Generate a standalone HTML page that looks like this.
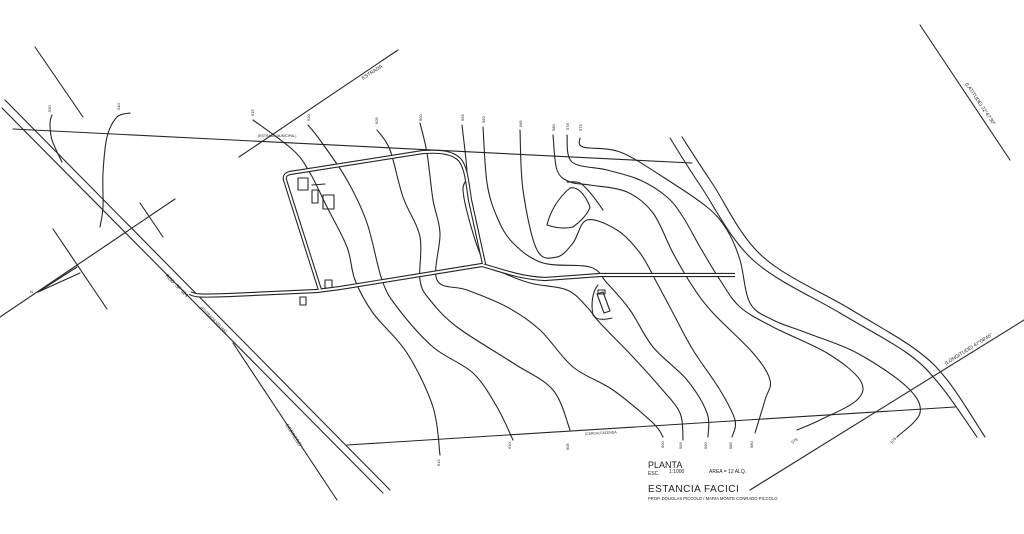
<!DOCTYPE html>
<html><head><meta charset="utf-8"><style>
html,body{margin:0;padding:0;background:#fff;}
svg{display:block}
text{font-family:"Liberation Sans",sans-serif;fill:#222}
</style></head><body>
<svg id="s" width="1024" height="534" viewBox="0 0 1024 534" xmlns="http://www.w3.org/2000/svg">
<rect width="1024" height="534" fill="#fff"/>
<g stroke="#262626" stroke-width="1.1" fill="none" stroke-linejoin="round" stroke-linecap="round">
<line x1="2" y1="108" x2="383" y2="493"/>
<line x1="5" y1="100" x2="390" y2="490"/>
<line x1="233" y1="343" x2="337" y2="500"/>
<line x1="35" y1="47" x2="83" y2="117"/>
<line x1="0" y1="317" x2="175" y2="199"/>
<line x1="53" y1="229" x2="107" y2="309"/>
<line x1="140" y1="203" x2="163" y2="237"/>
<line x1="38" y1="292" x2="77" y2="267"/>
<line x1="38" y1="292" x2="80" y2="273"/>
<line x1="13" y1="129" x2="692" y2="163"/>
<line x1="239" y1="157" x2="398" y2="50"/>
<line x1="347" y1="445" x2="955" y2="407"/>
<polyline class="c" points="670,138 700,185 753,260 840,313 907,353 940,385 977,437"/>
<polyline class="c" points="682,137 712,183 762,256 850,309 915,349 948,381 985,437"/>
<line x1="920" y1="25" x2="1010" y2="160"/>
<line x1="750" y1="490" x2="1024" y2="320"/>
<polyline class="c" points="52,115 50,123 52,140 62,162"/>
<polyline class="c" points="130,113 117,117 107,137 103,173 103,207 100,227"/>
<polyline class="c" points="253,120 293,150 310,173 327,207 347,247 355,280 373,313 407,353 433,407 440,455"/>
<polyline class="c" points="308,125 320,140 347,180 367,223 382,280 397,307 433,347 473,373 497,407 513,440"/>
<polyline class="c" points="377,130 390,150 403,197 420,237 420,280 430,300 457,327 513,363 553,390 570,430"/>
<polyline class="c" points="420,123 427,153 433,200 440,233 437,280 467,290 507,307 540,330 573,367 613,390 653,423 663,437"/>
<polyline class="c" points="462,125 467,173 463,190 470,223 483,260 497,270 530,283 567,290 587,307 600,323 633,357 660,387 680,413 683,440"/>
<polyline class="c" points="483,127 487,183 497,217 513,243 543,263 590,267 607,283 630,310 653,347 687,380 707,413 708,437"/>
<polyline class="c" points="520,130 523,190 537,250 557,257 573,243 587,220 617,230 640,253 657,283 673,313 693,350 720,390 735,420 732,437"/>
<polyline class="c" points="553,135 557,170 570,182 590,185 627,192 653,213 673,253 693,287 713,313 753,353 770,380 765,400 755,433"/>
<polyline class="c" points="567,135 572,162 607,170 640,180 667,197 683,217 700,247 720,280 740,307 773,327 827,353 860,380 857,400 820,420 797,430"/>
<polyline class="c" points="580,138 583,147 620,152 663,177 707,207 727,230 740,260 750,303 773,320 807,333 857,353 907,387 920,413 897,437"/>
<path d="M547,225 C550,212 558,198 570,188 C578,186 586,196 590,207 C588,214 580,222 573,227 C565,229 556,228 547,225"/>
<polyline class="c" points="567,182 580,183 592,195 603,210"/>
<path d="M598,285 C592,292 591,305 593,315 C596,320 604,320 612,318"/>
<polygon points="597,294 603,292 610,311 604,313"/>
<rect x="598" y="290" width="7" height="4"/>
<rect x="298" y="178" width="10" height="12"/>
<rect x="312" y="190" width="6" height="13"/>
<rect x="323" y="195" width="11" height="14"/>
<line x1="312" y1="185" x2="325" y2="184"/>
<rect x="325" y="280" width="7" height="8"/>
<rect x="300" y="297" width="6" height="8"/>
</g>
<g fill="none" stroke-linejoin="round">
<path id="r" d="M190,293 C195,296 200,296 230,295 L317,291 L340,288 L482,265 C500,270 520,278 545,279 L600,275 L735,275"/>
<path id="loop" d="M320,290 L285,180 C284,176 286,174 290,173 L423,152 C440,151 452,152 460,160 C466,168 467,180 470,200 L477,232 L484,264"/>
</g>
<g fill="none" stroke="#262626" stroke-width="4.2" stroke-linejoin="round">
<use href="#r"/><use href="#loop"/>
</g>
<g fill="none" stroke="#fff" stroke-width="2" stroke-linejoin="round">
<use href="#r"/><use href="#loop"/>
</g>
<g font-size="4">
<text x="47" y="112" transform="rotate(-90 49 110)">530</text>
<text x="116" y="110" transform="rotate(-90 118 108)">540</text>
<text x="250" y="116" transform="rotate(-90 252 114)">615</text>
<text x="306" y="121" transform="rotate(-90 308 119)">610</text>
<text x="374" y="124" transform="rotate(-90 376 122)">605</text>
<text x="418" y="121" transform="rotate(-90 420 119)">600</text>
<text x="460" y="121" transform="rotate(-90 462 119)">595</text>
<text x="481" y="123" transform="rotate(-90 483 121)">590</text>
<text x="518" y="127" transform="rotate(-90 520 125)">585</text>
<text x="551" y="131" transform="rotate(-90 553 129)">580</text>
<text x="565" y="130" transform="rotate(-90 567 128)">578</text>
<text x="578" y="131" transform="rotate(-90 580 129)">575</text>
<text x="436" y="466" transform="rotate(-90 438 464)">615</text>
<text x="507" y="449" transform="rotate(-90 509 447)">610</text>
<text x="565" y="450" transform="rotate(-90 567 448)">605</text>
<text x="660" y="448" transform="rotate(-90 662 446)">600</text>
<text x="678" y="449" transform="rotate(-90 680 447)">595</text>
<text x="703" y="449" transform="rotate(-90 705 447)">590</text>
<text x="728" y="449" transform="rotate(-90 730 447)">585</text>
<text x="749" y="448" transform="rotate(-90 751 446)">580</text>
<text x="791" y="443" transform="rotate(-33 793 441)">578</text>
<text x="890" y="443" transform="rotate(-50 892 441)">575</text>
<text x="30" y="293">N</text>
<text x="258" y="137" font-size="3.5">(ESTRADA MUNICIPAL)</text>
<text x="585" y="435" font-size="3.5" transform="rotate(-3 585 435)">(CERCA) FAZENDA</text>
</g>
<g font-size="5">
<text x="363" y="80" transform="rotate(-33 363 80)">ESTRADA</text>
<text x="165" y="276" transform="rotate(45 165 276)">ROD. SP 324</text>
<text x="200" y="308" transform="rotate(45 200 308)" font-size="4">(ESTRADA VELHA)</text>
<text x="285" y="425" transform="rotate(57 285 425)">CORREGO</text>
<text x="965" y="84" transform="rotate(56 965 84)">(LATITUDE) 22°47'30"</text>
<text x="946" y="365" transform="rotate(-32 946 365)">(LONGITUDE) 47°08'45"</text>
</g>
<g>
<text x="648" y="468" font-size="9">PLANTA</text>
<text x="648" y="475" font-size="5">ESC.</text>
<text x="669" y="473" font-size="5">1:1000</text>
<text x="709" y="473" font-size="5">AREA = 12 ALQ.</text>
<text x="648" y="492" font-size="10" letter-spacing="0.5">ESTANCIA FACICI</text>
<text x="648" y="500" font-size="4.2">PROP. DOUGLAS PICCOLO / MARIA MONTE CONRADO PICCOLO</text>
</g>
</svg>
<script>
(function(){
var ns="http://www.w3.org/2000/svg";
var pls=document.querySelectorAll("polyline.c");
for(var i=0;i<pls.length;i++){
 var pl=pls[i];
 var a=pl.getAttribute("points").trim().split(/\s+/).map(function(s){var q=s.split(",");return [+q[0],+q[1]];});
 if(a.length<3)continue;
 var d="M"+a[0][0]+","+a[0][1];
 for(var k=0;k<a.length-1;k++){
  var p0=a[k-1]||a[k],p1=a[k],p2=a[k+1],p3=a[k+2]||a[k+1];
  var c1x=p1[0]+(p2[0]-p0[0])/6,c1y=p1[1]+(p2[1]-p0[1])/6;
  var c2x=p2[0]-(p3[0]-p1[0])/6,c2y=p2[1]-(p3[1]-p1[1])/6;
  d+=" C"+c1x.toFixed(1)+","+c1y.toFixed(1)+" "+c2x.toFixed(1)+","+c2y.toFixed(1)+" "+p2[0]+","+p2[1];
 }
 var p=document.createElementNS(ns,"path");
 p.setAttribute("d",d);
 pl.parentNode.replaceChild(p,pl);
}
})();
</script>
</body></html>
